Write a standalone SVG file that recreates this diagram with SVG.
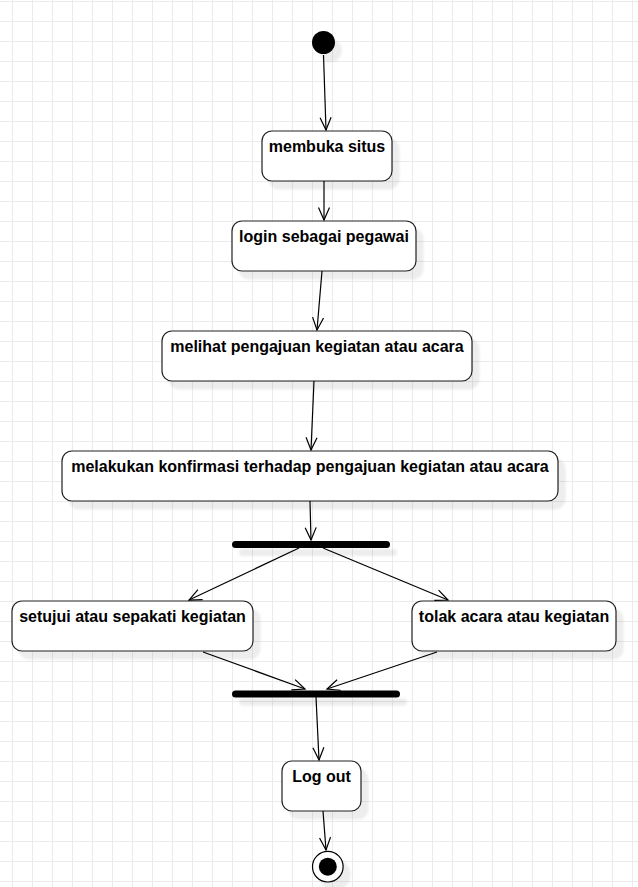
<svg xmlns="http://www.w3.org/2000/svg" width="638" height="887" viewBox="0 0 638 887">
<style>
.box{fill:#fff;stroke:#222;stroke-width:1.2}
.lbl{font-family:"Liberation Sans",Arial,Helvetica,sans-serif;font-size:16px;font-weight:bold;fill:#000;text-anchor:middle}
.bar{fill:#000}
.edge{fill:none;stroke:#000;stroke-width:1.2}
</style>
<defs>
<pattern id="grid" patternUnits="userSpaceOnUse" x="12" y="1" width="20" height="20">
<path d="M0.5 0V20M0 0.5H20" fill="none" stroke="#ebebeb" stroke-width="1"/>
</pattern>
<filter id="sh" filterUnits="userSpaceOnUse" x="0" y="0" width="638" height="887">
<feGaussianBlur in="SourceAlpha" stdDeviation="1"/>
<feOffset dx="7" dy="8" result="o"/>
<feFlood flood-color="#000" flood-opacity="0.07"/>
<feComposite in2="o" operator="in" result="s"/>
<feMerge><feMergeNode in="s"/><feMergeNode in="SourceGraphic"/></feMerge>
</filter>
<marker id="arr" viewBox="-14 -8 16 16" refX="0" refY="0" markerWidth="16" markerHeight="16" markerUnits="userSpaceOnUse" orient="auto">
<path d="M-12.5 -5.5L0 0L-12.5 5.5" fill="none" stroke="#000" stroke-width="1.2"/>
</marker>
</defs>
<rect width="638" height="887" fill="#fff"/>
<rect width="638" height="887" fill="url(#grid)"/>

<g id="start"><circle cx="323.5" cy="42.5" r="11.5" fill="#000" filter="url(#sh)"/></g>

<g id="membuka-situs"><rect class="box" x="262" y="131" width="130" height="50" rx="10" filter="url(#sh)"/><text class="lbl" x="327" y="152">membuka situs</text></g>
<g id="login"><rect class="box" x="232" y="221" width="184" height="50" rx="10" filter="url(#sh)"/><text class="lbl" x="324" y="242">login sebagai pegawai</text></g>
<g id="melihat"><rect class="box" x="162" y="331" width="310" height="50" rx="10" filter="url(#sh)"/><text class="lbl" x="317" y="352">melihat pengajuan kegiatan atau acara</text></g>
<g id="melakukan"><rect class="box" x="62" y="451" width="496" height="50" rx="10" filter="url(#sh)"/><text class="lbl" x="310" y="472">melakukan konfirmasi terhadap pengajuan kegiatan atau acara</text></g>
<g id="fork"><rect class="bar" x="232" y="541" width="158" height="7" rx="3.5" filter="url(#sh)"/></g>
<g id="setujui"><rect class="box" x="12" y="601" width="241" height="50" rx="10" filter="url(#sh)"/><text class="lbl" x="132.5" y="622">setujui atau sepakati kegiatan</text></g>
<g id="tolak"><rect class="box" x="412" y="601" width="204" height="50" rx="10" filter="url(#sh)"/><text class="lbl" x="514" y="622">tolak acara atau kegiatan</text></g>
<g id="join"><rect class="bar" x="232" y="690.5" width="168" height="7" rx="3.5" filter="url(#sh)"/></g>
<g id="logout"><rect class="box" x="282" y="761" width="79" height="50" rx="10" filter="url(#sh)"/><text class="lbl" x="321.5" y="782">Log out</text></g>
<g id="end"><circle cx="327.8" cy="866.7" r="15.3" fill="#fff" stroke="#000" stroke-width="1.2" filter="url(#sh)"/><circle cx="327.8" cy="866.7" r="9" fill="#000"/></g>

<g id="connectors">
<path class="edge" d="M323.5 55L326 130" marker-end="url(#arr)"/>
<path class="edge" d="M324 181L324 220" marker-end="url(#arr)"/>
<path class="edge" d="M322 271L317 330" marker-end="url(#arr)"/>
<path class="edge" d="M314 381L311 450" marker-end="url(#arr)"/>
<path class="edge" d="M310 501L311 540" marker-end="url(#arr)"/>
<path class="edge" d="M299 548L189 600" marker-end="url(#arr)"/>
<path class="edge" d="M323 548L448 600" marker-end="url(#arr)"/>
<path class="edge" d="M203 652L305 689" marker-end="url(#arr)"/>
<path class="edge" d="M437 652L327 689" marker-end="url(#arr)"/>
<path class="edge" d="M316 697L319 760" marker-end="url(#arr)"/>
<path class="edge" d="M323 811L326 850" marker-end="url(#arr)"/>
</g>
</svg>
